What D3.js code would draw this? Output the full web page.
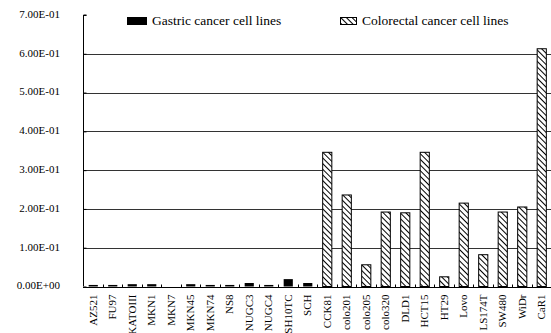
<!DOCTYPE html>
<html>
<head>
<meta charset="utf-8">
<script src="https://cdn.jsdelivr.net/npm/d3@7"></script>
<style>
  body { margin: 0; background: #fff; }
  svg { display: block; font-family: "Liberation Serif", "Times New Roman", serif; }
</style>
</head>
<body>
<div id="chart"></div>
<script>
// cell lines and measured values
var gastricLines = ["AZ521", "FU97", "KATOIII", "MKN1", "MKN7", "MKN45", "MKN74", "NS8", "NUGC3", "NUGC4", "SH10TC", "SCH"];
var gastricValues = [0.004, 0.004, 0.006, 0.006, 0.0, 0.006, 0.004, 0.004, 0.009, 0.004, 0.019, 0.009];
var colorectalLines = ["CCK81", "colo201", "colo205", "colo320", "DLD1", "HCT15", "HT29", "Lovo", "LS174T", "SW480", "WiDr", "CaR1"];
var colorectalValues = [0.346, 0.236, 0.056, 0.192, 0.190, 0.346, 0.025, 0.215, 0.082, 0.192, 0.205, 0.613];
var yTicks = [0, 0.1, 0.2, 0.3, 0.4, 0.5, 0.6, 0.7];
var seriesNames = ["Gastric cancer cell lines", "Colorectal cancer cell lines"];

var width = 551, height = 333;
var margin = { top: 15, right: 0, bottom: 46, left: 83 };

var data = gastricLines.map((n, i) => ({ name: n, value: gastricValues[i], group: 0 }))
    .concat(colorectalLines.map((n, i) => ({ name: n, value: colorectalValues[i], group: 1 })));

var svg = d3.select("#chart").append("svg")
    .attr("width", width)
    .attr("height", height);

// hatch pattern for colorectal bars
var defs = svg.append("defs");
var pat = defs.append("pattern")
    .attr("id", "hatch")
    .attr("patternUnits", "userSpaceOnUse")
    .attr("width", 4)
    .attr("height", 4)
    .attr("patternTransform", "rotate(-45)");
pat.append("rect").attr("width", 4).attr("height", 4).attr("fill", "#fff");
pat.append("line")
    .attr("x1", 0).attr("y1", 0).attr("x2", 0).attr("y2", 4)
    .attr("stroke", "#000").attr("stroke-width", 2);

var x = d3.scaleBand()
    .domain(data.map(d => d.name))
    .range([margin.left, width - margin.right])
    .paddingInner(0.53)
    .paddingOuter(0.265);

var xGrid = d3.scaleBand()
    .domain(data.map(d => d.name))
    .range([margin.left, width - margin.right]);

var y = d3.scaleLinear()
    .domain([0, 0.7])
    .range([height - margin.bottom - 0.5, margin.top]);

// gridlines
svg.append("g")
    .selectAll("line")
    .data(yTicks.filter(t => t > 0 && t < 0.7))
    .enter()
    .append("line")
    .attr("x1", margin.left)
    .attr("x2", width)
    .attr("y1", d => Math.round(y(d)) + 0.5)
    .attr("y2", d => Math.round(y(d)) + 0.5)
    .attr("stroke", "#333")
    .attr("stroke-width", 1);

// y axis
var yAxis = svg.append("g")
    .attr("transform", "translate(" + (margin.left + 0.5) + ",0)")
    .call(d3.axisRight(y).tickValues(yTicks).tickSize(3).tickFormat(""));
yAxis.select(".domain").attr("stroke", "#000").attr("d", "M3," + y(0.7) + "H0V" + y(0));
yAxis.selectAll("line").attr("stroke", "#000");

svg.append("g")
    .selectAll("text")
    .data(yTicks)
    .enter()
    .append("text")
    .attr("x", 60)
    .attr("y", d => y(d) - 1)
    .attr("dy", "0.35em")
    .attr("text-anchor", "end")
    .style("font-size", "11px")
    .text(d => d.toExponential(2).replace("e-", "E-0").replace("e+", "E+0"));

// bars
svg.append("g")
    .selectAll("rect")
    .data(data)
    .enter()
    .append("rect")
    .attr("x", d => x(d.name) + 0.5)
    .attr("y", d => y(d.value))
    .attr("width", x.bandwidth())
    .attr("height", d => y(0) - y(d.value))
    .attr("fill", d => d.group === 0 ? "#000" : "url(#hatch)")
    .attr("stroke", d => d.group === 0 ? "none" : "#000")
    .attr("stroke-width", 1);

// x axis
var baseY = Math.round(y(0)) + 0.5;
svg.append("line")
    .attr("x1", margin.left)
    .attr("x2", width)
    .attr("y1", baseY)
    .attr("y2", baseY)
    .attr("stroke", "#000");
svg.append("g")
    .selectAll("line")
    .data(data.slice(1))
    .enter()
    .append("line")
    .attr("x1", d => Math.round(xGrid(d.name)) + 0.5)
    .attr("x2", d => Math.round(xGrid(d.name)) + 0.5)
    .attr("y1", baseY)
    .attr("y2", baseY - 3)
    .attr("stroke", "#000");

svg.append("g")
    .selectAll("text")
    .data(data)
    .enter()
    .append("text")
    .attr("transform", d => "translate(" + (xGrid(d.name) + xGrid.bandwidth() / 2 + 4) + "," + (baseY + 7) + ") rotate(-90)")
    .attr("text-anchor", "end")
    .style("font-size", "11px")
    .text(d => d.name);

// legend
var legendPos = [{ x: 127, tx: 152 }, { x: 340, tx: 362 }];
var legend = svg.selectAll(".legend")
    .data(seriesNames)
    .enter()
    .append("g")
    .attr("class", "legend");
legend.append("rect")
    .attr("x", (d, i) => legendPos[i].x + 0.5)
    .attr("y", 17.5)
    .attr("width", (d, i) => i === 0 ? 19 : 16)
    .attr("height", 7)
    .attr("fill", (d, i) => i === 0 ? "#000" : "url(#hatch)")
    .attr("stroke", "#000");
legend.append("text")
    .attr("x", (d, i) => legendPos[i].tx)
    .attr("y", 25)
    .style("font-size", "13.5px")
    .text(d => d);
</script>
</body>
</html>
